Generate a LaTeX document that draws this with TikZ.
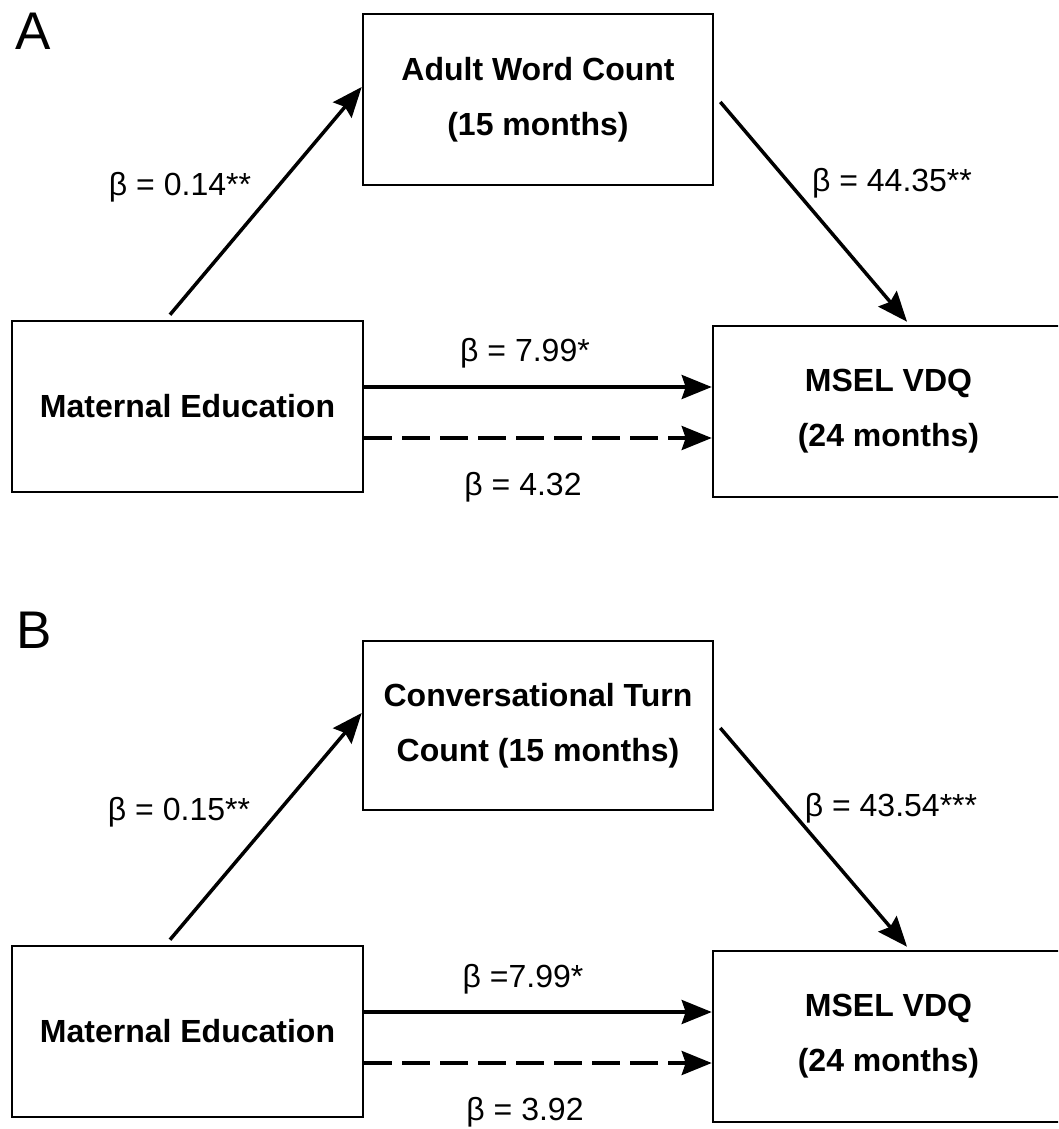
\documentclass[tikz,border=0pt]{standalone}
\usepackage{fontspec}
\setmainfont{Liberation Sans}
\usetikzlibrary{arrows.meta,calc}
\begin{document}
\begin{tikzpicture}[x=1pt,y=-1pt,
  box/.style={draw, line width=2.6pt, minimum width=351pt, minimum height=171pt,
    inner sep=0pt, align=center, font=\fontsize{32}{55}\selectfont\bfseries},
  lab/.style={inner sep=0pt, font=\fontsize{32}{38}\selectfont},
  panel/.style={inner sep=0pt, anchor=north west, font=\fontsize{53}{60}\selectfont},
  arr/.style={line width=3.5pt, -{Stealth[length=30pt,width=24pt,inset=4pt]}},
  dasharr/.style={arr, dash pattern=on 28pt off 10pt},
]
\useasboundingbox (0,0) rectangle (1058,1129);
\fill[white] (0,0) rectangle (1058,1129);
\begin{scope}
\clip (0,0) rectangle (1058,1129);

% ---------- Panel A ----------
\node[panel] (pA) at (15,13) {A};
\node[box, minimum width=350pt] (awc) at (538,99.5) {Adult Word Count\\(15 months)};
\node[box] (meA) at (187.5,406.5) {Maternal Education};
\node[box] (msA) at (888.5,411.5) {MSEL VDQ\\(24 months)};

\coordinate (a1s) at ($(meA.north)+(-17.5,-5)$);
\coordinate (a1e) at ($(awc.west)+(0,-12.5)$);
\draw[arr] (a1s) -- (a1e);

\coordinate (a2s) at ($(awc.east)+(6,2.5)$);
\coordinate (a2e) at ($(msA.north)+(18.5,-3)$);
\draw[arr] (a2s) -- (a2e);

\coordinate (a3s) at ([yshift=19.5pt]meA.east);
\draw[arr] (a3s) -- (a3s -| msA.west);
\coordinate (a4s) at ([yshift=-31.5pt]meA.east);
\draw[dasharr] (a4s) -- (a4s -| msA.west);

\node[lab] (lA1) at (180,187) {β = 0.14**};
\node[lab] (lA2) at (892,183) {β = 44.35**};
\node[lab] (lA3) at (525,353) {β = 7.99*};
\node[lab] (lA4) at (523,487) {β = 4.32};

% ---------- Panel B ----------
\node[panel] (pB) at (16,612) {B};
\node[box, minimum width=350pt, minimum height=169pt] (ctc) at (538,725.5) {Conversational Turn\\Count (15 months)};
\node[box] (meB) at (187.5,1031.5) {Maternal Education};
\node[box] (msB) at (888.5,1036.5) {MSEL VDQ\\(24 months)};

\coordinate (b1s) at ($(meB.north)+(-17.5,-5)$);
\coordinate (b1e) at ($(ctc.west)+(0,-12.5)$);
\draw[arr] (b1s) -- (b1e);

\coordinate (b2s) at ($(ctc.east)+(6,2.5)$);
\coordinate (b2e) at ($(msB.north)+(18.5,-3)$);
\draw[arr] (b2s) -- (b2e);

\coordinate (b3s) at ([yshift=19.5pt]meB.east);
\draw[arr] (b3s) -- (b3s -| msB.west);
\coordinate (b4s) at ([yshift=-31.5pt]meB.east);
\draw[dasharr] (b4s) -- (b4s -| msB.west);

\node[lab] (lB1) at (179,812) {β = 0.15**};
\node[lab] (lB2) at (891,808) {β = 43.54***};
\node[lab] (lB3) at (523,979) {β =7.99*};
\node[lab] (lB4) at (525,1112) {β = 3.92};
\end{scope}
\end{tikzpicture}
\end{document}
